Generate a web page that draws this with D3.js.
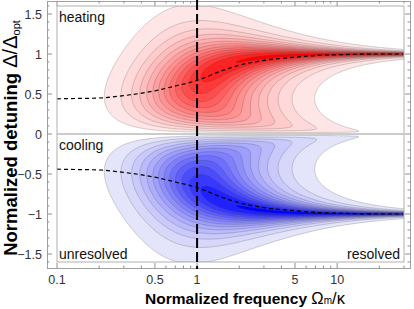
<!DOCTYPE html>
<html><head><meta charset="utf-8">
<script src="https://cdn.jsdelivr.net/npm/d3@7"></script>
<style>body{margin:0;background:#fff}svg{display:block}text{font-family:"Liberation Sans",Arial,sans-serif}</style>
</head><body>
<svg id="c" width="414" height="309"></svg>
<script>
// ---- data ----
const xDomain = [0.1, 30];
const yDomain = [-1.6, 1.6];
const xTickValues = [0.1, 0.5, 1, 5, 10];
const xTickLabels = ["0.1", "0.5", "1", "5", "10"];
const xMinorTicks = [0.2,0.3,0.4,0.6,0.7,0.8,0.9,2,3,4,6,7,8,9,20,30];
const yTickValues = [-1.5, -1, -0.5, 0, 0.5, 1, 1.5];
const yTickLabels = ["\u22121.5", "\u22121", "\u22120.5", "0", "0.5", "1", "1.5"];
const contourLevels = [0.28,0.56,0.84,1.12,1.4,1.68,1.96,2.24,2.52,2.8,3.08,3.36,3.64,3.92];
// optimum detuning curve (dashed)
const optX = [0.1, 0.15, 0.2, 0.3, 0.5, 0.7, 1, 1.5, 2, 3, 5, 7, 10, 20, 30];
const optY = [0.44, 0.445, 0.45, 0.48, 0.54, 0.6, 0.67, 0.79, 0.86, 0.92, 0.96, 0.98, 0.99, 1.0, 1.0];
const regionLabels = ["heating", "cooling", "unresolved", "resolved"];

// normalized optomechanical heating/cooling rate at fixed input power
// (Omega_m = 1, kappa = 1/x, detuning = y * sqrt(Omega_m^2 + kappa^2/4))
function rate(x, y) {
  const k = 1 / x, h = k * k / 4;
  const d = y * Math.sqrt(1 + h);
  return k * k / (d * d + h) * (1 / (h + (d - 1) * (d - 1)) - 1 / (h + (d + 1) * (d + 1)));
}

const svg = d3.select("#c");
const L = 57, R = 404, T = 6, B = 262;
const x = d3.scaleLog().domain(xDomain).range([L, R]);
const y = d3.scaleLinear().domain(yDomain).range([B, T]);

svg.append("defs").append("clipPath").attr("id", "clip")
  .append("rect").attr("x", L).attr("y", T).attr("width", R - L).attr("height", B - T);

// field grid (2 samples per pixel)
const S = 2;
const nx = (R - L) * S, ny = (B - T) * S;
const vals = new Float64Array(nx * ny);
for (let j = 0; j < ny; j++) {
  const yv = y.invert(T + (j + 0.5) / S);
  for (let i = 0; i < nx; i++) {
    const xv = x.invert(L + (i + 0.5) / S);
    vals[j * nx + i] = rate(xv, yv);
  }
}
const neg = vals.map(v => -v);
const contours = d3.contours().size([nx, ny]).thresholds(contourLevels);
const path = d3.geoPath(d3.geoIdentity().scale(1 / S).translate([L, T]));

const n = contourLevels.length;
const redCol = i => { const t = Math.pow(1 - i / (n - 1), 0.75); return d3.rgb(255, 230 * t, 230 * t).toString(); };
const blueCol = i => { const t = Math.pow(1 - i / (n - 1), 0.75); return d3.rgb(228 * t, 228 * t, 250 + 5 * (1 - t)).toString(); };

const g = svg.append("g").attr("clip-path", "url(#clip)");
function drawSet(v, col) {
  const cs = contours(v);
  g.append("g").selectAll("path").data(cs).join("path")
    .attr("d", path)
    .attr("fill", (d, i) => col(i))
    .attr("stroke", "rgba(70,70,70,0.4)")
    .attr("stroke-width", 0.6);
}
drawSet(vals, redCol);
drawSet(neg, blueCol);

// zero line
svg.append("line").attr("x1", L).attr("x2", R).attr("y1", y(0)).attr("y2", y(0))
  .attr("stroke", "#999").attr("stroke-width", 1);

// dashed optimum curves
const line = d3.line().x(d => x(d[0])).y(d => y(d[1])).curve(d3.curveMonotoneX);
const up = optX.map((v, i) => [v, optY[i]]);
const dn = optX.map((v, i) => [v, -optY[i]]);
[up, dn].forEach(dd => g.append("path").attr("d", line(dd)).attr("fill", "none")
  .attr("stroke", "#000").attr("stroke-width", 1.2).attr("stroke-dasharray", "4,3"));

// inner box
svg.append("rect").attr("x", L).attr("y", T).attr("width", R - L).attr("height", B - T)
  .attr("fill", "none").attr("stroke", "#b0b0b0").attr("stroke-width", 1);

// outer frame with ticks
const OL = 47, OR = 410, OT = 1, OB = 268;
svg.append("rect").attr("x", OL + 0.5).attr("y", OT + 0.5).attr("width", OR - OL).attr("height", OB - OT)
  .attr("fill", "none").attr("stroke", "#a0a0a0").attr("stroke-width", 1);
const tk = svg.append("g").attr("stroke", "#909090").attr("stroke-width", 1);
const yMinor = d3.range(-16, 17).map(v => v / 10);
yMinor.forEach(v => {
  const major = yTickValues.some(t => Math.abs(t - v) < 1e-9);
  const len = major ? 5 : 2.5;
  tk.append("line").attr("x1", OL).attr("x2", OL + len).attr("y1", y(v)).attr("y2", y(v));
  tk.append("line").attr("x1", OR).attr("x2", OR - len).attr("y1", y(v)).attr("y2", y(v));
});
xTickValues.concat(xMinorTicks).forEach(v => {
  const major = xTickValues.includes(v);
  const len = major ? 5 : 2.5;
  tk.append("line").attr("y1", OB).attr("y2", OB - len).attr("x1", x(v)).attr("x2", x(v));
  tk.append("line").attr("y1", OT).attr("y2", OT + len).attr("x1", x(v)).attr("x2", x(v));
});

// vertical dashed at Omega_m/kappa = 1
svg.append("line").attr("x1", x(1)).attr("x2", x(1)).attr("y1", 0).attr("y2", OB + 1)
  .attr("stroke", "#000").attr("stroke-width", 2).attr("stroke-dasharray", "10,4");

// tick labels
svg.append("g").selectAll("text").data(yTickValues).join("text")
  .attr("x", 42).attr("y", d => y(d) + 4.5).attr("text-anchor", "end")
  .attr("font-size", 12.5).attr("fill", "#333").text((d, i) => yTickLabels[i]);
svg.append("g").selectAll("text").data(xTickValues).join("text")
  .attr("x", d => x(d)).attr("y", 284).attr("text-anchor", "middle")
  .attr("font-size", 12.5).attr("fill", "#333").text((d, i) => xTickLabels[i]);

// region labels
const lab = (t, px, py, anchor) => svg.append("text").attr("x", px).attr("y", py)
  .attr("text-anchor", anchor).attr("font-size", 14).attr("fill", "#111").text(t);
lab(regionLabels[0], 59, 22, "start");
lab(regionLabels[1], 59, 150, "start");
lab(regionLabels[2], 59, 259, "start");
lab(regionLabels[3], 400, 259, "end");

// axis titles
const xt = svg.append("text").attr("x", 245).attr("y", 304).attr("text-anchor", "middle").attr("fill", "#000");
xt.append("tspan").attr("font-weight", "bold").attr("font-size", 15.5).text("Normalized frequency ");
xt.append("tspan").attr("font-size", 16.5).text("\u03A9");
xt.append("tspan").attr("font-size", 10).text("m");
xt.append("tspan").attr("font-size", 16.5).text("/\u03BA");

const yt = svg.append("text").attr("transform", "translate(17,138) rotate(-90)").attr("text-anchor", "middle").attr("fill", "#000");
yt.append("tspan").attr("font-weight", "bold").attr("font-size", 18.5).text("Normalized detuning ");
yt.append("tspan").attr("font-size", 20).text("\u0394/\u0394");
yt.append("tspan").attr("font-size", 11).attr("dy", 3).text("opt");
</script>
</body></html>
